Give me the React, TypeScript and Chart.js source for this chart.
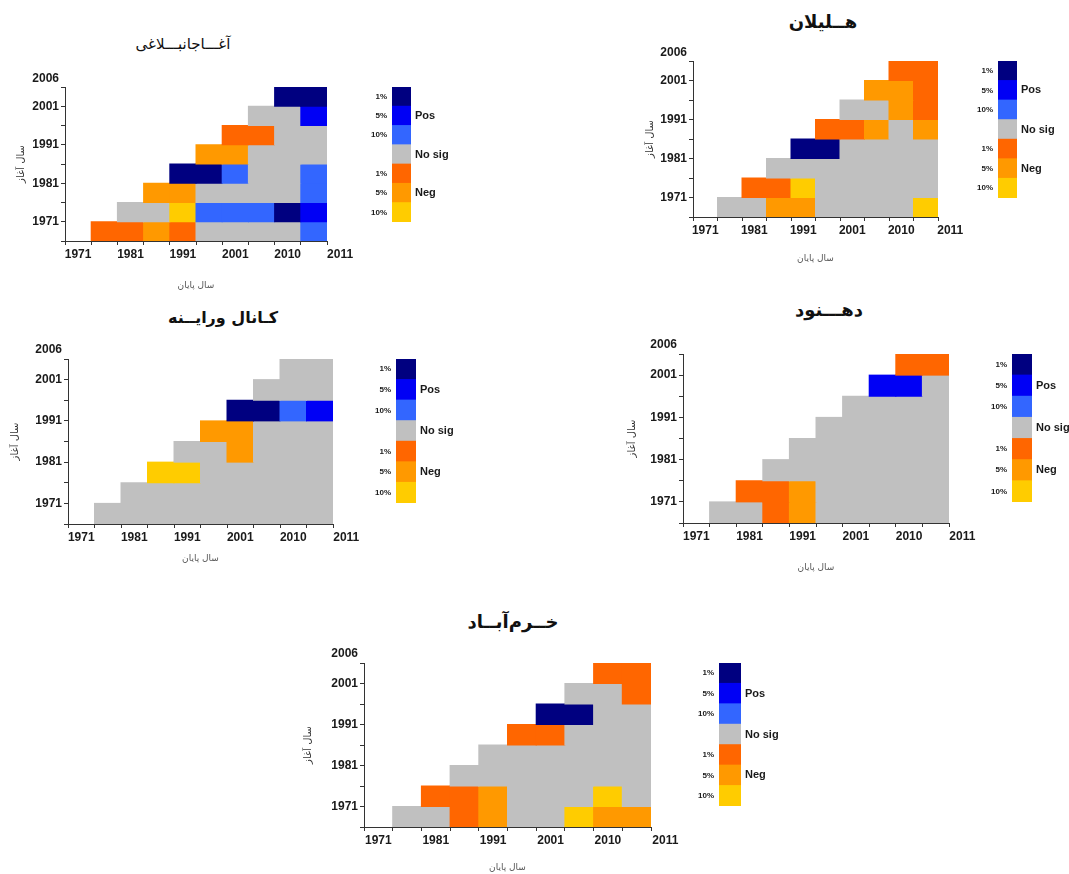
import React, { useEffect, useRef } from 'react';
import { Chart, registerables } from 'chart.js';

Chart.register(...registerables);

const LATIN_FONT = '"Liberation Sans", Arial, "DejaVu Sans", sans-serif';
const PERSIAN_FONT = '"DejaVu Sans", sans-serif';

// Significance codes: 3 / 2 / 1 = positive trend at 1 / 5 / 10 %,
// 0 = not significant, -3 / -2 / -1 = negative trend at 1 / 5 / 10 %.
const sigColors: Record<string, string> = {
  '3': '#000080',
  '2': '#0000F5',
  '1': '#3366FF',
  '0': '#C0C0C0',
  '-3': '#FF6600',
  '-2': '#FF9900',
  '-1': '#FFCC00',
};

// End-year axis (10 columns, 11 tick marks) and start-year axis (8 rows, 9 tick marks)
const endYearLabels = ['1971', '', '1981', '', '1991', '', '2001', '', '2010', '', '2011'];
const startYearLabels = ['', '1971', '', '1981', '', '1991', '', '2001', ''];
const topStartYearLabel = '2006';
const rowKeys = ['r0', 'r1', 'r2', 'r3', 'r4', 'r5', 'r6', 'r7'];

// Colour key
const legendCodes = [3, 2, 1, 0, -3, -2, -1];
const legendLevels = ['1%', '5%', '10%', '', '1%', '5%', '10%'];
const legendGroups = ['', 'Pos', '', 'No sig', '', 'Neg', ''];

const startAxisTitle = 'سال آغاز';
const endAxisTitle = 'سال پایان';

// Each row (bottom to top) lists codes from its first column through column 9;
// row r starts at column r + 1.
const aghajanbolaghiRows = [
  [-3, -3, -2, -3, 0, 0, 0, 0, 1],
  [0, 0, -1, 1, 1, 1, 3, 2],
  [-2, -2, 0, 0, 0, 0, 1],
  [3, 3, 1, 0, 0, 1],
  [-2, -2, 0, 0, 0],
  [-3, -3, 0, 0],
  [0, 0, 2],
  [3, 3],
];
const holeylanRows = [
  [0, 0, -2, -2, 0, 0, 0, 0, -1],
  [-3, -3, -1, 0, 0, 0, 0, 0],
  [0, 0, 0, 0, 0, 0, 0],
  [3, 3, 0, 0, 0, 0],
  [-3, -3, -2, 0, -2],
  [0, 0, -2, -3],
  [-2, -2, -3],
  [-3, -3],
];
const kanalVarayenehRows = [
  [0, 0, 0, 0, 0, 0, 0, 0, 0],
  [0, 0, 0, 0, 0, 0, 0, 0],
  [-1, -1, 0, 0, 0, 0, 0],
  [0, 0, -2, 0, 0, 0],
  [-2, -2, 0, 0, 0],
  [3, 3, 1, 2],
  [0, 0, 0],
  [0, 0],
];
const dehnowRows = [
  [0, 0, -3, -2, 0, 0, 0, 0, 0],
  [-3, -3, -2, 0, 0, 0, 0, 0],
  [0, 0, 0, 0, 0, 0, 0],
  [0, 0, 0, 0, 0, 0],
  [0, 0, 0, 0, 0],
  [0, 0, 0, 0],
  [2, 2, 0],
  [-3, -3],
];
const khorramabadRows = [
  [0, 0, -3, -2, 0, 0, -1, -2, -2],
  [-3, -3, -2, 0, 0, 0, -1, 0],
  [0, 0, 0, 0, 0, 0, 0],
  [0, 0, 0, 0, 0, 0],
  [-3, -3, 0, 0, 0],
  [3, 3, 0, 0],
  [0, 0, -3],
  [-3, -3],
];

type Box = {
  plotL: number; plotR: number; plotT: number; plotB: number;
  yTitleX: number; xTitleY: number;
  titleX: number; titleY: number; titleSize: number; titleWeight: number;
  keyL: number; keyR: number; keyT: number; keyB: number;
};

type PanelSpec = { name: string; rows: number[][]; box: Box };

const panels: PanelSpec[] = [
  {
    name: 'آغـــاجانبـــلاغی',
    rows: aghajanbolaghiRows,
    box: { plotL: 65, plotR: 327, plotT: 87, plotB: 241, yTitleX: 21, xTitleY: 285,
      titleX: 183, titleY: 45, titleSize: 15, titleWeight: 400,
      keyL: 392, keyR: 411, keyT: 87, keyB: 222 },
  },
  {
    name: 'هــلیلان',
    rows: holeylanRows,
    box: { plotL: 693, plotR: 938, plotT: 61, plotB: 217, yTitleX: 650, xTitleY: 258,
      titleX: 823, titleY: 22, titleSize: 18, titleWeight: 700,
      keyL: 998, keyR: 1017, keyT: 61, keyB: 198 },
  },
  {
    name: 'کـانال ورایــنه',
    rows: kanalVarayenehRows,
    box: { plotL: 68, plotR: 333, plotT: 359, plotB: 524, yTitleX: 15, xTitleY: 558,
      titleX: 223, titleY: 318, titleSize: 16, titleWeight: 700,
      keyL: 396, keyR: 416, keyT: 359, keyB: 503 },
  },
  {
    name: 'دهـــنود',
    rows: dehnowRows,
    box: { plotL: 683, plotR: 949, plotT: 354, plotB: 523, yTitleX: 632, xTitleY: 567,
      titleX: 829, titleY: 310, titleSize: 18, titleWeight: 700,
      keyL: 1012, keyR: 1032, keyT: 354, keyB: 502 },
  },
  {
    name: 'خــرم‌آبــاد',
    rows: khorramabadRows,
    box: { plotL: 364, plotR: 651, plotT: 663, plotB: 827, yTitleX: 308, xTitleY: 867,
      titleX: 513, titleY: 622, titleSize: 18, titleWeight: 700,
      keyL: 719, keyR: 741, keyT: 663, keyB: 806 },
  },
];

const AXIS_TITLE_SIZE = 10;
const TICK_SIZE = 12;
const PAD_TOP = 22;
const PAD_RIGHT = 34;
const TOP_LABEL_POS = 8.45;
const AXIS_COLOR = '#333';
const TEXT_COLOR = '#1a1a1a';
const KEY_LEFT_W = 34;
const KEY_RIGHT_W = 52;
const KEY_PAD = 12;

function HeatPanel({ spec }: { spec: PanelSpec }) {
  const heatRef = useRef<HTMLCanvasElement | null>(null);
  const keyRef = useRef<HTMLCanvasElement | null>(null);
  const b = spec.box;
  const half = (AXIS_TITLE_SIZE * 1.2) / 2;
  const yW = b.plotL - (b.yTitleX - half);
  const xH = b.xTitleY + half - b.plotB;
  const cL = b.plotL - yW;
  const cT = b.plotT - PAD_TOP;
  const cW = b.plotR + PAD_RIGHT - cL;
  const cH = b.plotB + xH - cT;
  const colHalf = (b.plotR - b.plotL) / (endYearLabels.length - 1) / 2;

  const kL = b.keyL - KEY_LEFT_W;
  const kT = b.keyT - KEY_PAD;
  const kW = KEY_LEFT_W + (b.keyR - b.keyL) + KEY_RIGHT_W;
  const kH = (b.keyB - b.keyT) + KEY_PAD * 2;

  useEffect(() => {
    if (!heatRef.current || !keyRef.current) return;
    const cells: { x: number[]; y: string }[] = [];
    const colors: string[] = [];
    spec.rows.forEach((row, r) => {
      row.forEach((code, k) => {
        const c = r + 1 + k;
        cells.push({ x: [c, c + 1], y: rowKeys[r] });
        colors.push(sigColors[String(code)]);
      });
    });

    const tickFont = { family: LATIN_FONT, size: TICK_SIZE, weight: 'bold' as const };

    const heat = new Chart(heatRef.current, {
      type: 'bar',
      data: {
        datasets: [
          {
            data: cells as any,
            backgroundColor: colors,
            borderWidth: 0,
            borderSkipped: false,
            inflateAmount: 0.5,
            barPercentage: 1,
            categoryPercentage: 1,
            xAxisID: 'x',
            yAxisID: 'rows',
          } as any,
        ],
      },
      options: {
        indexAxis: 'y',
        responsive: false,
        animation: false,
        events: [],
        layout: { padding: { top: PAD_TOP, right: PAD_RIGHT, left: 0, bottom: 0 } },
        plugins: { legend: { display: false }, tooltip: { enabled: false }, title: { display: false } },
        scales: {
          x: {
            type: 'linear',
            position: 'bottom',
            min: 0,
            max: 10,
            offset: false,
            afterBuildTicks: (s: any) => {
              s.ticks = endYearLabels.map((_, i) => ({ value: i }));
            },
            afterFit: (s: any) => {
              s.height = xH;
            },
            ticks: {
              autoSkip: false,
              maxRotation: 0,
              padding: 2,
              labelOffset: colHalf,
              font: tickFont,
              color: TEXT_COLOR,
              callback: (v: any) => endYearLabels[Math.round(Number(v))] ?? '',
            },
            grid: { offset: false, drawOnChartArea: false, drawTicks: true, tickLength: 4, tickColor: AXIS_COLOR },
            border: { display: true, color: AXIS_COLOR, width: 1 },
            title: {
              display: true,
              text: endAxisTitle,
              font: { family: PERSIAN_FONT, size: AXIS_TITLE_SIZE - 1 },
              color: '#555',
              padding: 0,
            },
          },
          y: {
            type: 'linear',
            position: 'left',
            min: 0,
            max: 8,
            offset: false,
            afterBuildTicks: (s: any) => {
              s.ticks = [...startYearLabels.map((_, i) => ({ value: i })), { value: TOP_LABEL_POS }];
            },
            afterFit: (s: any) => {
              s.width = yW;
            },
            ticks: {
              autoSkip: false,
              padding: 2,
              font: tickFont,
              color: TEXT_COLOR,
              callback: (v: any) => {
                const n = Number(v);
                if (n > 8) return topStartYearLabel;
                return startYearLabels[Math.round(n)] ?? '';
              },
            },
            grid: {
              offset: false,
              drawOnChartArea: false,
              drawTicks: true,
              tickLength: 4,
              tickColor: (ctx: any) => (ctx.tick && ctx.tick.value > 8 ? 'rgba(0,0,0,0)' : AXIS_COLOR),
            },
            border: { display: true, color: AXIS_COLOR, width: 1 },
            title: {
              display: true,
              text: startAxisTitle,
              font: { family: PERSIAN_FONT, size: AXIS_TITLE_SIZE },
              color: '#333',
              padding: 0,
            },
          },
          rows: {
            type: 'category',
            axis: 'y',
            position: 'left',
            labels: rowKeys,
            reverse: true,
            offset: true,
            display: false,
          },
        } as any,
      },
    });

    const key = new Chart(keyRef.current, {
      type: 'bar',
      data: {
        labels: legendLevels,
        datasets: [
          {
            data: legendCodes.map(() => 1),
            backgroundColor: legendCodes.map((c) => sigColors[String(c)]),
            borderWidth: 0,
            inflateAmount: 0.5,
            barPercentage: 1,
            categoryPercentage: 1,
            xAxisID: 'x',
            yAxisID: 'y',
          } as any,
        ],
      },
      options: {
        indexAxis: 'y',
        responsive: false,
        animation: false,
        events: [],
        layout: { padding: { top: KEY_PAD, bottom: KEY_PAD, left: 0, right: 0 } },
        plugins: { legend: { display: false }, tooltip: { enabled: false } },
        scales: {
          x: { type: 'linear', display: false, min: 0, max: 1 },
          y: {
            type: 'category',
            position: 'left',
            labels: legendLevels,
            offset: true,
            grid: { display: false, drawTicks: false },
            border: { display: false },
            afterFit: (s: any) => {
              s.width = KEY_LEFT_W;
            },
            ticks: { padding: 5, font: { family: LATIN_FONT, size: 8, weight: 'bold' }, color: TEXT_COLOR },
          },
          y2: {
            type: 'category',
            axis: 'y',
            position: 'right',
            labels: legendGroups,
            offset: true,
            grid: { display: false, drawTicks: false },
            border: { display: false },
            afterFit: (s: any) => {
              s.width = KEY_RIGHT_W;
            },
            ticks: { padding: 4, font: { family: LATIN_FONT, size: 11, weight: 'bold' }, color: TEXT_COLOR },
          },
        } as any,
      },
    });

    return () => {
      heat.destroy();
      key.destroy();
    };
  }, [spec]);

  const lh = b.titleSize * 1.3;
  return (
    <>
      <div
        style={{
          position: 'absolute',
          left: b.titleX - 150,
          top: b.titleY - lh / 2,
          width: 300,
          height: lh,
          lineHeight: `${lh}px`,
          fontSize: b.titleSize,
          fontWeight: b.titleWeight,
          fontFamily: PERSIAN_FONT,
          textAlign: 'center',
          direction: 'rtl',
          color: '#111',
          whiteSpace: 'nowrap',
        }}
      >
        {spec.name}
      </div>
      <canvas
        ref={heatRef}
        width={cW}
        height={cH}
        style={{ position: 'absolute', left: cL, top: cT, width: cW, height: cH }}
      />
      <canvas
        ref={keyRef}
        width={kW}
        height={kH}
        style={{ position: 'absolute', left: kL, top: kT, width: kW, height: kH }}
      />
    </>
  );
}

export default function App() {
  return (
    <div
      style={{
        position: 'absolute',
        left: 0,
        top: 0,
        width: 1069,
        height: 874,
        overflow: 'hidden',
        background: '#fff',
      }}
    >
      {panels.map((p) => (
        <HeatPanel key={p.name} spec={p} />
      ))}
    </div>
  );
}
